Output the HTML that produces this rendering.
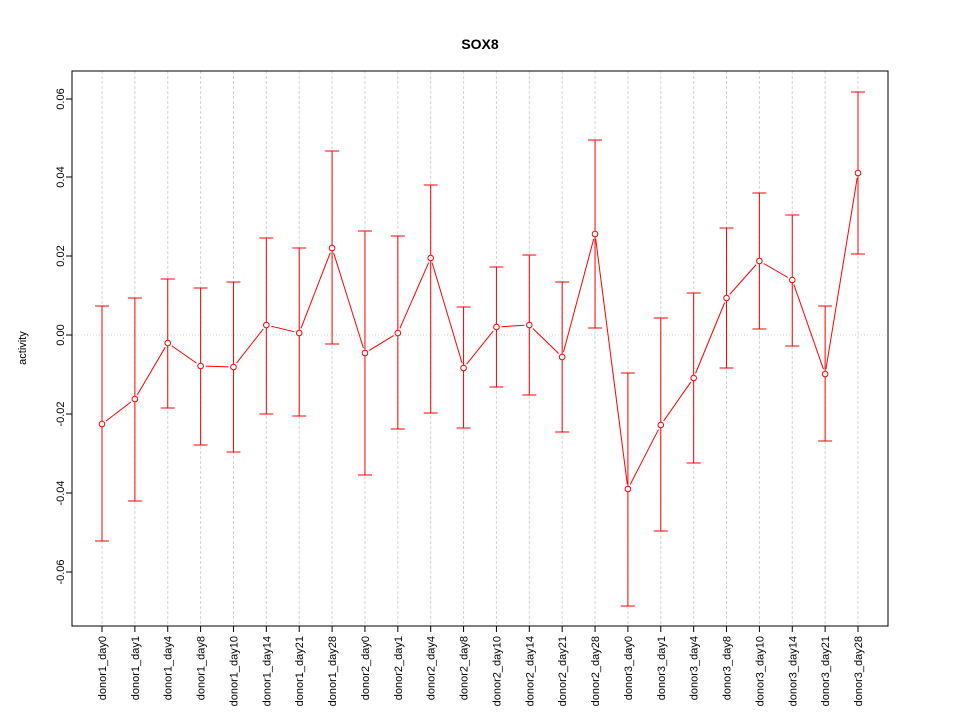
<!DOCTYPE html>
<html><head><style>body{margin:0;background:#fff}svg{display:block}</style></head><body>
<svg width="960" height="720" xmlns="http://www.w3.org/2000/svg" font-family="Liberation Sans, sans-serif">
<rect width="960" height="720" fill="#fff"/>
<text x="480" y="49" text-anchor="middle" font-size="14" font-weight="bold">SOX8</text>
<g id="grid" stroke="#d3d3d3" stroke-dasharray="3,2" stroke-width="1"></g>
<rect x="72" y="71" width="816" height="555" fill="none" stroke="#000"/>
<g id="yt" font-size="11"></g>
<g id="xt" font-size="11"></g>
<g id="data" stroke="#ff0000" fill="none" stroke-width="1"></g>
<text transform="translate(26,348) rotate(-90)" text-anchor="middle" font-size="11">activity</text>
<script>
var ns="http://www.w3.org/2000/svg";
function el(p,t,a,txt){var e=document.createElementNS(ns,t);for(var k in a)e.setAttribute(k,a[k]);if(txt)e.textContent=txt;p.appendChild(e);return e;}
var g=document.getElementById('grid'),yt=document.getElementById('yt'),xt=document.getElementById('xt'),d=document.getElementById('data');
var ys=[[0.06,99],[0.04,177],[0.02,256],[0.00,335],[-0.02,414],[-0.04,493],[-0.06,572]];
el(g,'line',{x1:72,x2:888,y1:335,y2:335,'stroke-dasharray':'1,2'});
ys.forEach(function(v){
el(yt,'line',{x1:66,x2:72,y1:v[1],y2:v[1],stroke:'#000'});
el(yt,'text',{transform:'translate(64,'+v[1]+') rotate(-90)','text-anchor':'middle'},v[0].toFixed(2));});
var labels=["donor1_day0","donor1_day1","donor1_day4","donor1_day8","donor1_day10","donor1_day14","donor1_day21","donor1_day28","donor2_day0","donor2_day1","donor2_day4","donor2_day8","donor2_day10","donor2_day14","donor2_day21","donor2_day28","donor3_day0","donor3_day1","donor3_day4","donor3_day8","donor3_day10","donor3_day14","donor3_day21","donor3_day28"];
var pts=[[424,306,541],[399,298,501],[343,279,408],[366,288,445],[367,282,452],[325,238,414],[333,248,416],[248,151,344],[353,231,475],[333,236,429],[258,185,413],[368,307,428],[327,267,387],[325,255,395],[357,282,432],[234,140,328],[489,373,606],[425,318,531],[378,293,463],[298,228,368],[261,193,329],[280,215,346],[374,306,441],[173,92,254]];
var X=function(i){return 102+i*756/23;};
labels.forEach(function(l,i){var x=X(i);
el(g,'line',{x1:x,x2:x,y1:71,y2:626});
el(xt,'line',{x1:x,x2:x,y1:626,y2:632,stroke:'#000'});
el(xt,'text',{transform:'translate('+(x+4)+',636) rotate(-90)','text-anchor':'end'},l);
var p=pts[i];
el(d,'line',{x1:x,x2:x,y1:p[1],y2:p[2]});
el(d,'line',{x1:x-7,x2:x+7,y1:p[1],y2:p[1]});
el(d,'line',{x1:x-7,x2:x+7,y1:p[2],y2:p[2]});
if(i>0){var x0=X(i-1),y0=pts[i-1][0],dx=x-x0,dy=p[0]-y0,L=Math.sqrt(dx*dx+dy*dy),g2=5;
el(d,'line',{x1:x0+dx*g2/L,y1:y0+dy*g2/L,x2:x-dx*g2/L,y2:p[0]-dy*g2/L});}
});
pts.forEach(function(p,i){el(d,'circle',{cx:X(i),cy:p[0],r:2.8,fill:'#fff'});});
</script>
</svg>
</body></html>
